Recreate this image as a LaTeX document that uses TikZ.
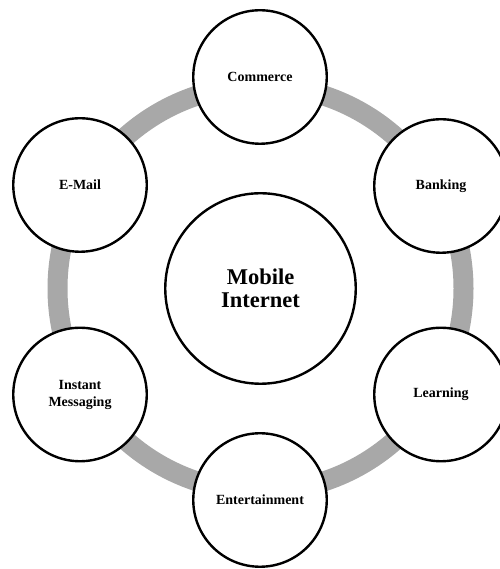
\documentclass[tikz,border=0pt]{standalone}
\usepackage{fontspec}
\setmainfont{Liberation Serif}
\definecolor{ringgray}{HTML}{A8A8A8}
\begin{document}
\begin{tikzpicture}[x=1pt,y=1pt,
  outer/.style={circle,draw=black,line width=2.4pt,fill=white,minimum size=133.5pt,inner sep=0pt,align=center,font=\bfseries\fontsize{14}{17}\selectfont},
  hub/.style={circle,draw=black,line width=2.4pt,fill=white,minimum size=190.5pt,inner sep=0pt,align=center,font=\bfseries\fontsize{22.5}{23}\selectfont},
  ringline/.style={draw=ringgray,line width=20pt}]
\useasboundingbox (0,0) rectangle (499,569);
\coordinate (c) at (260.5,280.5);
\draw[ringline] (c) circle[radius=203];
\node[hub] (mi) at (c) {Mobile\\Internet};
\node[outer] (commerce) at (260,492) {Commerce};
\node[outer] (banking) at (441,383) {Banking};
\node[outer] (learning) at (441,174.5) {Learning};
\node[outer] (ent) at (260,69) {Entertainment};
\node[outer] (im) at (80,174.5) {Instant\\Messaging};
\node[outer] (email) at (80,384) {E-Mail};
\end{tikzpicture}
\end{document}
